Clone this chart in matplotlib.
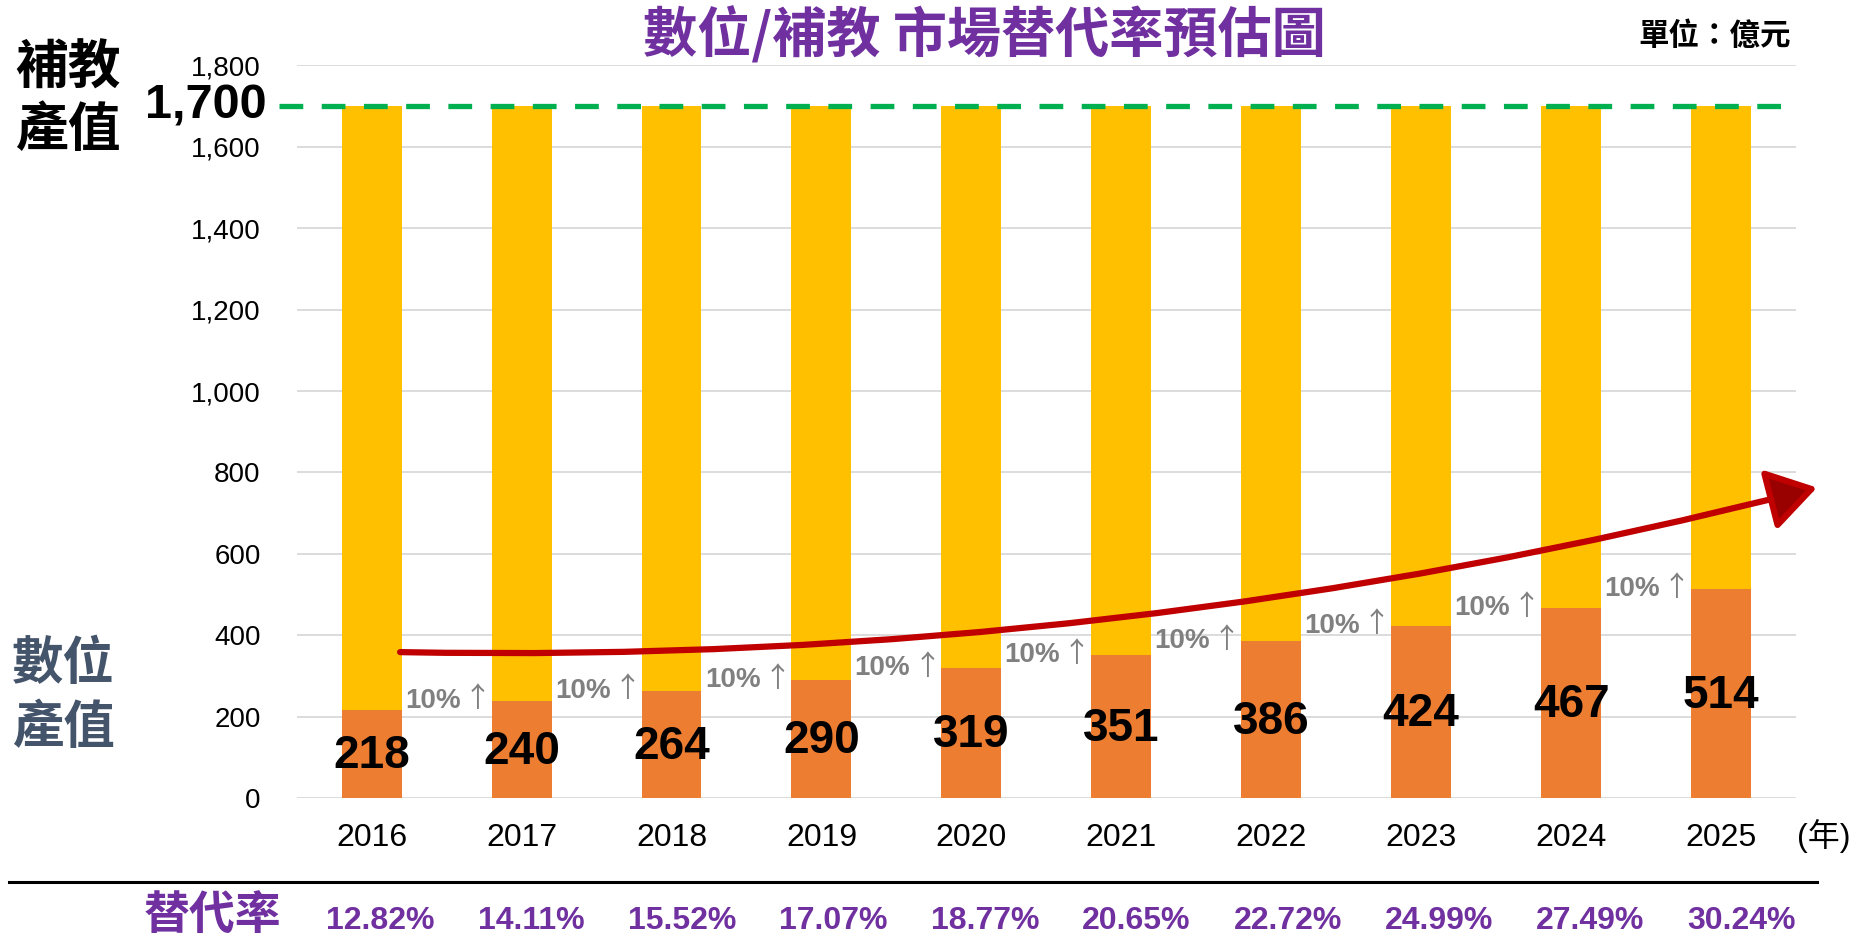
import matplotlib
matplotlib.use("Agg")
import matplotlib.pyplot as plt
import numpy as np
from matplotlib.lines import Line2D
from matplotlib.patches import FancyArrowPatch
from matplotlib.ticker import StrMethodFormatter
from matplotlib.transforms import blended_transform_factory

# data
years = [2016, 2017, 2018, 2019, 2020, 2021, 2022, 2023, 2024, 2025]
digital = [218, 240, 264, 290, 319, 351, 386, 424, 467, 514]
tutoring_total = 1700
rates = [12.82, 14.11, 15.52, 17.07, 18.77, 20.65, 22.72, 24.99, 27.49, 30.24]
growth_text = "10%"

ORANGE = "#ED7D31"
YELLOW = "#FFC000"
GREEN = "#00B050"
PURPLE = "#7030A0"
SLATE = "#44546A"
GRAY = "#808080"

plt.rcParams["font.family"] = ["Liberation Sans", "Noto Sans CJK TC", "DejaVu Sans"]
cjk = ["Noto Sans CJK TC", "DejaVu Sans"]

fig = plt.figure(figsize=(18.6, 9.42), dpi=100)
ax = fig.add_axes([0.1595, 0.1525, 0.8061, 0.7783])

x = np.arange(len(years))
rest = [tutoring_total - d for d in digital]
ax.bar(x, digital, width=0.4, color=ORANGE, zorder=2)
ax.bar(x, rest, bottom=digital, width=0.4, color=YELLOW, zorder=2)

ax.set_xlim(-0.5, len(years) - 0.5)
ax.set_ylim(0, 1800)
ax.set_yticks(range(0, 1801, 200))
ax.yaxis.set_major_formatter(StrMethodFormatter("{x:,.0f}"))
ax.set_xticks(x, [str(y) for y in years])
ax.grid(axis="y", color="#D9D9D9", lw=1.3)
ax.set_axisbelow(True)
for s in ax.spines.values():
    s.set_visible(False)
ax.tick_params(axis="y", length=0, pad=26, labelsize=20)
ax.tick_params(axis="x", length=0, pad=18, labelsize=23)

# 1,700 reference line
ax.axhline(tutoring_total, xmin=-0.012, xmax=0.993, color=GREEN, lw=3.8,
           dashes=(4.5, 3.5), clip_on=False, zorder=3)
ymix = blended_transform_factory(ax.transAxes, ax.transData)
ax.text(-0.02, tutoring_total, f"{tutoring_total:,}", transform=ymix,
        ha="right", va="center", fontsize=35, fontweight="bold")

# value labels on the orange part
for i, v in enumerate(digital):
    ax.text(i, v / 2 - 5, str(v), ha="center", va="center", fontsize=33,
            fontweight="bold", zorder=4)

# growth labels between bars
for i in range(len(digital) - 1):
    ax.annotate(growth_text, (i + 0.5, digital[i + 1]), xytext=(-10, 0),
                textcoords="offset points", ha="center", va="center",
                color=GRAY, fontsize=20, fontweight="bold", zorder=4)
    ax.annotate("↑", (i + 0.5, digital[i + 1]), xytext=(22, 1),
                textcoords="offset points", ha="center", va="center",
                color=GRAY, fontsize=20, family=cjk, zorder=4)

# trend arrow
arrow = FancyArrowPatch((0.19, 359), (9.64, 763),
                        connectionstyle="arc3,rad=0.068",
                        arrowstyle="-|>,head_length=3.0,head_width=1.9",
                        mutation_scale=10, lw=4.5, edgecolor="#C00000",
                        facecolor="#990000", shrinkA=0, shrinkB=0,
                        clip_on=False, zorder=5)
ax.add_patch(arrow)

# replacement rate row
xfig = blended_transform_factory(ax.transData, fig.transFigure)
for i, r in enumerate(rates):
    ax.text(i * 1.009 + 0.055, 0.022, f"{r:.2f}%", transform=xfig, ha="center",
            va="center", color=PURPLE, fontsize=23, fontweight="bold")

fig.add_artist(Line2D([0.005, 0.977], [0.0637, 0.0637], color="black", lw=2.2))

# titles and side labels
fig.text(0.529, 0.962, "數位/補教 市場替代率預估圖", ha="center", va="center",
         color=PURPLE, fontsize=39, fontweight="bold", family=cjk)
fig.text(0.963, 0.962, "單位：億元", ha="right", va="center",
         fontsize=22, fontweight="bold", family=cjk)
fig.text(0.0366, 0.928, "補教", ha="center", va="center", fontsize=38,
         fontweight="bold", family=cjk)
fig.text(0.0366, 0.862, "產值", ha="center", va="center", fontsize=38,
         fontweight="bold", family=cjk)
fig.text(0.034, 0.296, "數位", ha="center", va="center", fontsize=37,
         fontweight="bold", color=SLATE, family=cjk)
fig.text(0.034, 0.228, "產值", ha="center", va="center", fontsize=37,
         fontweight="bold", color=SLATE, family=cjk)
fig.text(0.9806, 0.1125, "(年)", ha="center", va="center", fontsize=23,
         family=["Liberation Sans", "Noto Sans CJK TC"])
fig.text(0.1145, 0.027, "替代率", ha="center", va="center", fontsize=33,
         fontweight="bold", color=PURPLE, family=cjk)

fig.savefig("out.png", dpi=100)
